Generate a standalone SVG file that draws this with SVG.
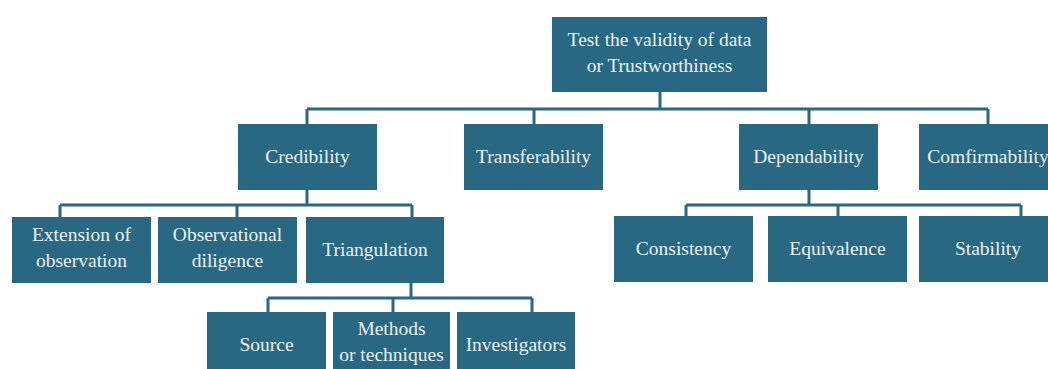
<svg xmlns="http://www.w3.org/2000/svg" width="1048" height="369" viewBox="0 0 1048 369">
<style>
.box{fill:#296882;}
.lbl{font-family:"Liberation Serif","Times New Roman",serif;font-size:19.5px;fill:#e9f0f3;text-anchor:middle;}
.conn{stroke:#2b6983;stroke-width:3;fill:none;}
</style>
<rect width="1048" height="369" fill="#ffffff"/>
<g id="connectors">
<path class="conn" d="M660 92V109M307 109H988M307 109V124M534 109V124M809 109V124M988 109V124"/>
<path class="conn" d="M307 190V205M60 205H412M60 205V217M237 205V217M412 205V217"/>
<path class="conn" d="M411 283V298M268 298H532M268 298V312M393 298V312M532 298V312"/>
<path class="conn" d="M809 190V205M686 205H1021M686 205V216M838 205V216M1021 205V216"/>
</g>
<g id="root"><rect class="box" x="552" y="17" width="215" height="75"/><text class="lbl" x="659.5" y="46">Test the validity of data</text><text class="lbl" x="659.5" y="72">or Trustworthiness</text></g>
<g id="credibility"><rect class="box" x="238" y="124" width="139" height="66"/><text class="lbl" x="307.5" y="163">Credibility</text></g>
<g id="transferability"><rect class="box" x="464" y="124" width="139" height="66"/><text class="lbl" x="533.5" y="163">Transferability</text></g>
<g id="dependability"><rect class="box" x="739" y="124" width="139" height="66"/><text class="lbl" x="808.5" y="163">Dependability</text></g>
<g id="comfirmability"><rect class="box" x="919" y="124" width="139" height="66"/><text class="lbl" x="988" y="163">Comfirmability</text></g>
<g id="extension"><rect class="box" x="12" y="217" width="139" height="66"/><text class="lbl" x="81.5" y="241">Extension of</text><text class="lbl" x="81.5" y="267">observation</text></g>
<g id="observational"><rect class="box" x="158" y="217" width="139" height="66"/><text class="lbl" x="227.5" y="241">Observational</text><text class="lbl" x="227.5" y="267">diligence</text></g>
<g id="triangulation"><rect class="box" x="306" y="217" width="138" height="66"/><text class="lbl" x="375" y="256">Triangulation</text></g>
<g id="consistency"><rect class="box" x="614" y="216" width="139" height="66"/><text class="lbl" x="683.5" y="255">Consistency</text></g>
<g id="equivalence"><rect class="box" x="768" y="216" width="139" height="66"/><text class="lbl" x="837.5" y="255">Equivalence</text></g>
<g id="stability"><rect class="box" x="919" y="216" width="139" height="66"/><text class="lbl" x="988" y="255">Stability</text></g>
<g id="source"><rect class="box" x="207" y="312" width="119" height="66"/><text class="lbl" x="266.5" y="351">Source</text></g>
<g id="methods"><rect class="box" x="333" y="312" width="117" height="66"/><text class="lbl" x="391.5" y="335">Methods</text><text class="lbl" x="391.5" y="361">or techniques</text></g>
<g id="investigators"><rect class="box" x="457" y="312" width="118" height="66"/><text class="lbl" x="516" y="351">Investigators</text></g>
</svg>
